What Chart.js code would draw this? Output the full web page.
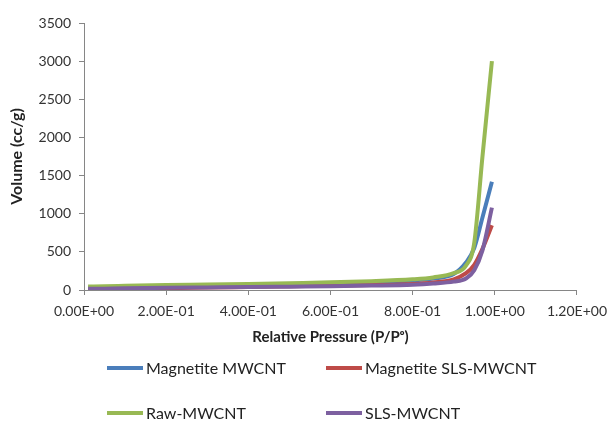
<!DOCTYPE html>
<html>
<head>
<meta charset="utf-8">
<script src="https://cdn.jsdelivr.net/npm/chart.js@4"></script>
<style>
  body { margin: 0; background: #fff; }
  #wrap { position: relative; width: 615px; height: 421px; }
  canvas { display: block; }
  #legend { position: absolute; left: 0; top: 0; font-family: Lato, sans-serif; font-size: 16px; color: #222; }
  .item { position: absolute; white-space: nowrap; display: flex; align-items: center; height: 20px; line-height: 20px; }
  .item span.sw { display: inline-block; width: 36px; height: 4px; margin-right: 3px; }
</style>
</head>
<body>
<div id="wrap">
  <canvas id="myChart" width="615" height="421"></canvas>
  <div id="legend"></div>
</div>
<script>
// datos (presion relativa vs volumen adsorbido)
const presion = [0.01, 0.05, 0.1, 0.2, 0.3, 0.4, 0.5, 0.6, 0.7, 0.8, 0.85, 0.9, 0.93, 0.95, 0.97, 0.993];
const magnetiteMWCNT = [30, 35, 40, 50, 58, 65, 75, 85, 100, 125, 150, 210, 360, 550, 950, 1420];
const magnetiteSLS = [12, 15, 18, 25, 32, 40, 48, 55, 65, 80, 100, 140, 220, 330, 540, 850];
const rawMWCNT = [45, 50, 55, 65, 72, 80, 90, 100, 115, 140, 165, 220, 320, 620, 1750, 3000];
const slsMWCNT = [15, 18, 22, 28, 33, 38, 44, 50, 58, 70, 85, 110, 150, 260, 520, 1080];

const nombres = ["Magnetite MWCNT", "Magnetite SLS-MWCNT", "Raw-MWCNT", "SLS-MWCNT"];
const colores = ["#4A7EBB", "#BE4B48", "#98B954", "#7D60A0"];
const series = [magnetiteMWCNT, magnetiteSLS, rawMWCNT, slsMWCNT];

function formatoE(v) {
    // 0.2 -> 2.00E-01
    if (v === 0) return "0.00E+00";
    let exp = Math.floor(Math.log10(Math.abs(v)) + 1e-9);
    let man = v / Math.pow(10, exp);
    let signo = exp < 0 ? "-" : "+";
    return man.toFixed(2) + "E" + signo + String(Math.abs(exp)).padStart(2, "0");
}

const datasets = series.map((valores, i) => {
    return {
        label: nombres[i],
        data: valores.map((v, j) => ({ x: presion[j], y: v })),
        borderColor: colores[i],
        backgroundColor: colores[i],
        borderWidth: 4,
        pointRadius: 0,
        showLine: true,
        cubicInterpolationMode: "monotone",
        order: 4 - i
    };
});

const fuente = "Lato, sans-serif";
const gris = "#868686";

const config = {
    type: "scatter",
    data: { datasets },
    options: {
        responsive: false,
        animation: false,
        layout: { padding: { left: 0, top: 23, right: 33, bottom: 75 } },
        plugins: { legend: { display: false }, tooltip: { enabled: false } },
        scales: {
            x: {
                type: "linear",
                min: 0,
                max: 1.2,
                ticks: {
                    stepSize: 0.2,
                    color: "#333",
                    font: { family: fuente, size: 14 },
                    padding: 8,
                    maxRotation: 0,
                    callback: (v) => formatoE(v)
                },
                grid: { drawOnChartArea: false, color: gris, tickLength: 5 },
                border: { color: gris, width: 1 },
                title: {
                    display: true,
                    text: "Relative Pressure (P/Pᵒ)",
                    color: "#222",
                    font: { family: fuente, size: 15, weight: "bold" },
                    padding: { top: 0, bottom: 0 }
                },
                afterFit: (s) => { s.height = 56; }
            },
            y: {
                min: 0,
                max: 3500,
                ticks: {
                    stepSize: 500,
                    color: "#333",
                    font: { family: fuente, size: 14 },
                    padding: 8,
                    callback: (v) => String(v)
                },
                grid: { drawOnChartArea: false, color: gris, tickLength: 5 },
                border: { color: gris, width: 1 },
                title: {
                    display: true,
                    text: "Volume (cc/g)",
                    color: "#222",
                    font: { family: fuente, size: 16, weight: "bold" },
                    padding: { top: 7, bottom: 0 }
                },
                afterFit: (s) => { s.width = 84; }
            }
        }
    }
};

new Chart(document.getElementById("myChart"), config);

// leyenda en dos columnas como en el original
const legend = document.getElementById("legend");
const posiciones = [[107, 368], [326, 368], [107, 413], [326, 413]];
nombres.forEach((n, i) => {
    const d = document.createElement("div");
    d.className = "item";
    d.style.left = posiciones[i][0] + "px";
    d.style.top = (posiciones[i][1] - 10) + "px";
    d.innerHTML = `<span class="sw" style="background:${colores[i]}"></span>${n}`;
    legend.appendChild(d);
});
</script>
</body>
</html>
